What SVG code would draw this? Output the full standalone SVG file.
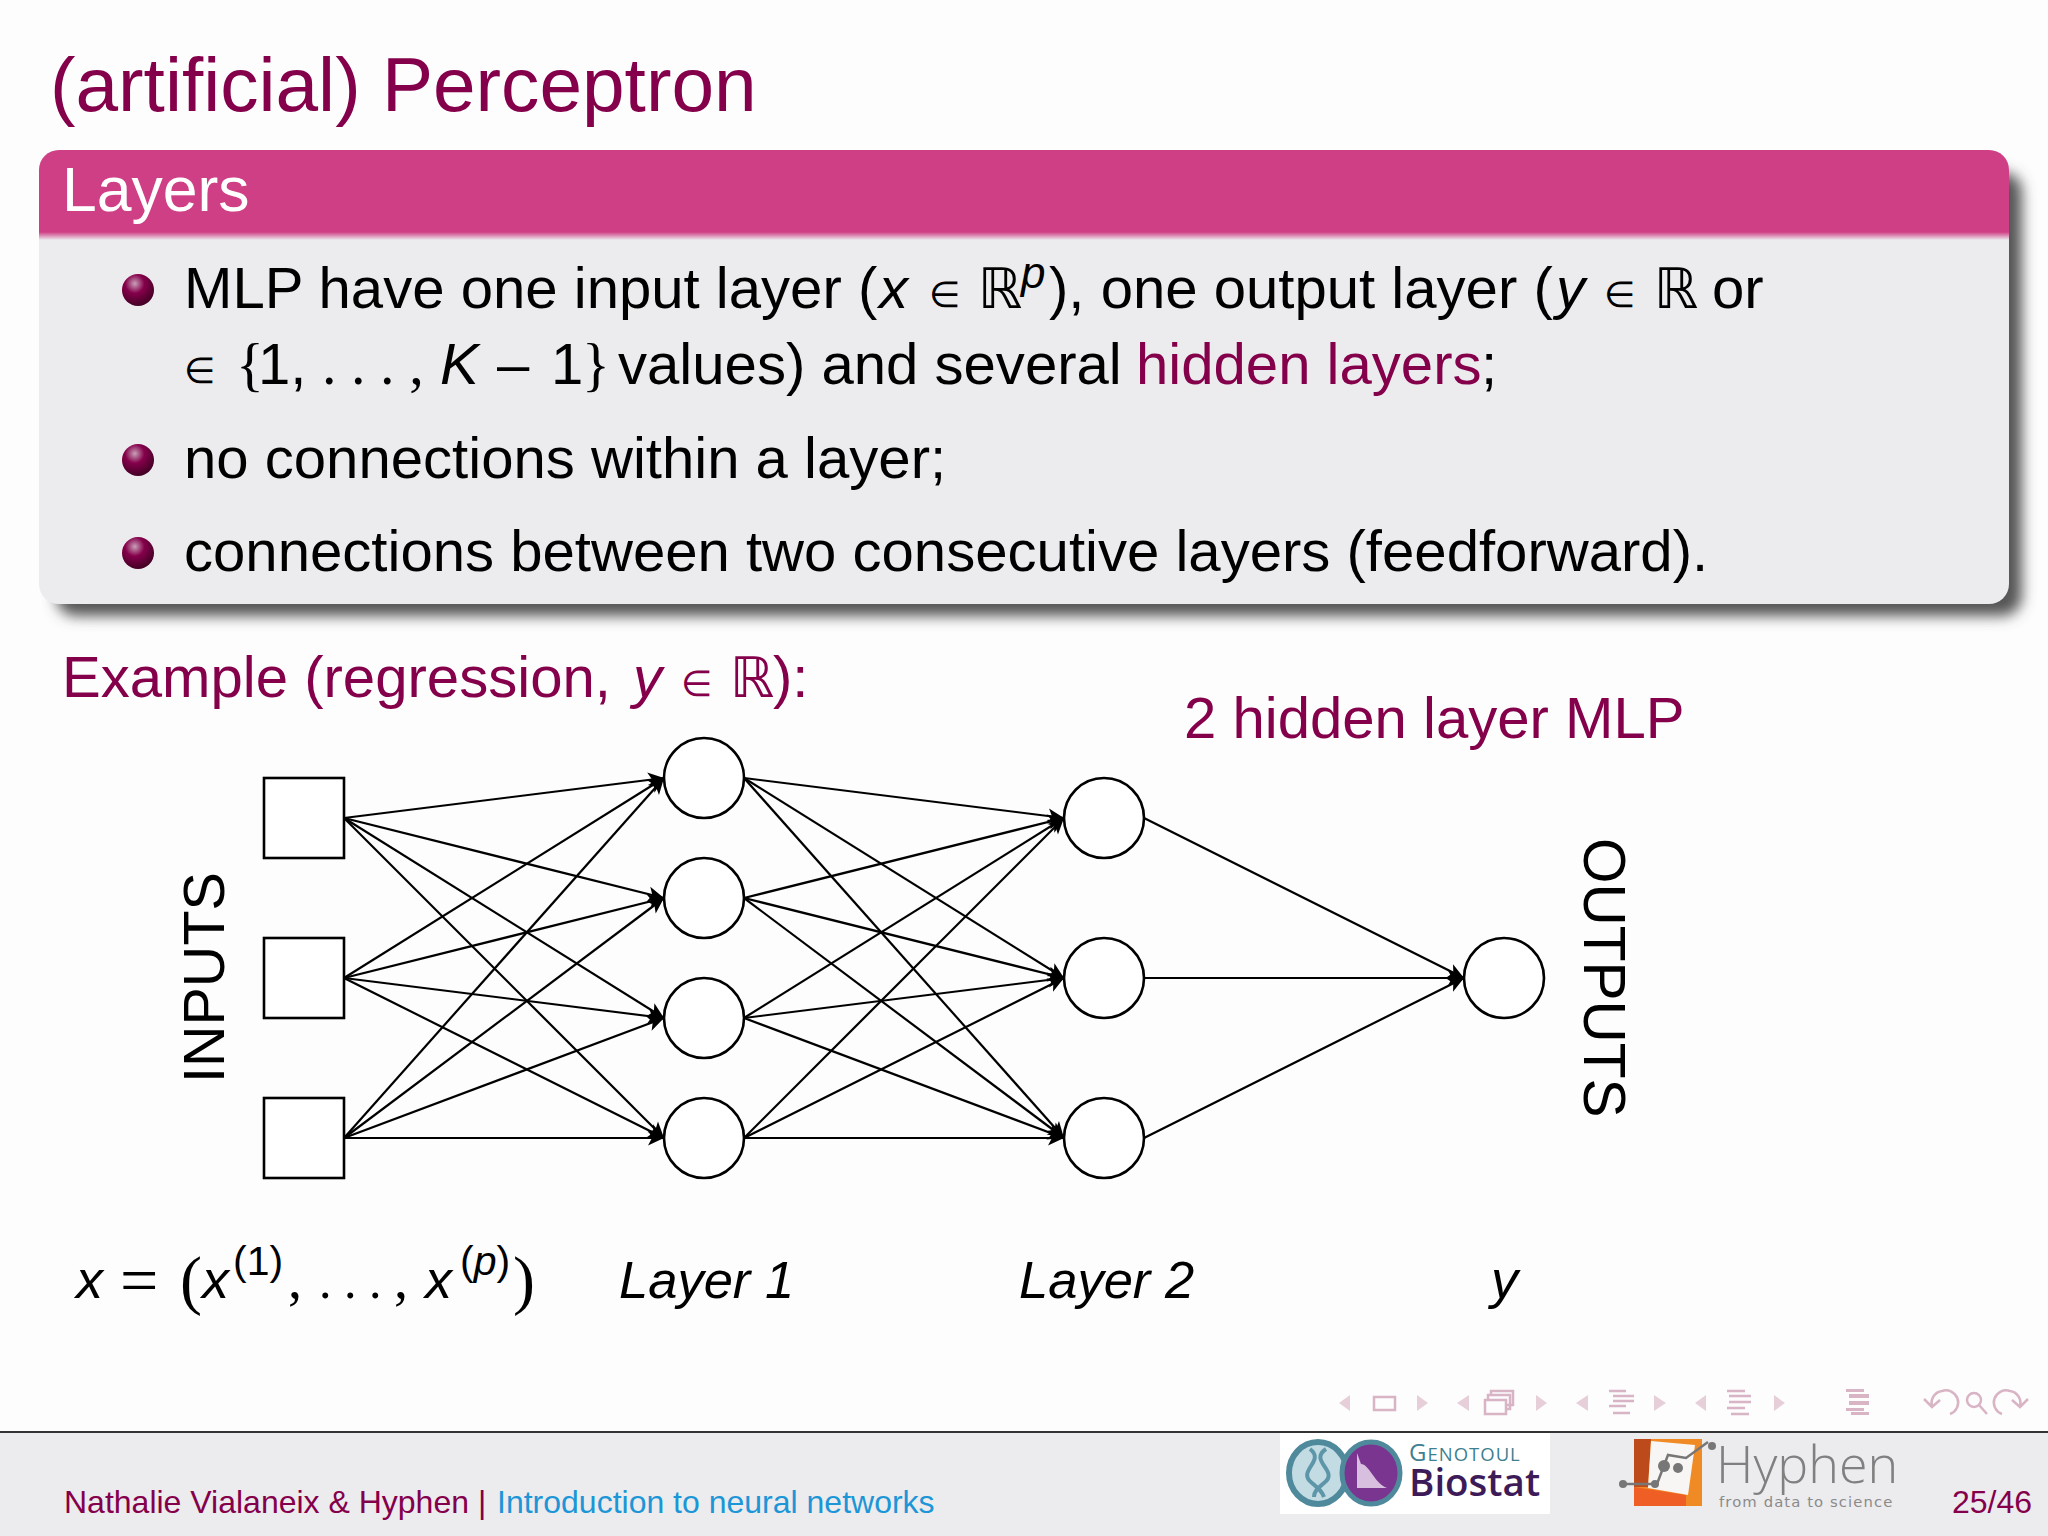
<svg xmlns="http://www.w3.org/2000/svg" width="2048" height="1536" viewBox="0 0 2048 1536">
<style>
text{font-family:"Liberation Sans",Arial,sans-serif;white-space:pre}
.b{font-size:58.100px;fill:#000}
.m{fill:#85004b}
.i{font-style:italic}
.s{font-family:"DejaVu Sans",sans-serif}
.f{font-family:"Liberation Serif",serif}
.n{fill:#fff;stroke:#000;stroke-width:2.6}
.e{stroke:#000;stroke-width:2.2;fill:none;marker-end:url(#a)}
.nv{fill:none;stroke:#d8b4c4;stroke-width:2.5}
.nt{fill:#e6cfd9}
.nb{fill:#d8b4c4}
</style>
<defs>
<marker id="a" markerUnits="userSpaceOnUse" markerWidth="24" markerHeight="24" refX="20" refY="12" orient="auto" viewBox="0 0 24 24"><path d="M4 4.500L20 12 4 19.500 8 12z" fill="#000"/></marker>
<radialGradient id="ball" cx="0.4" cy="0.3" r="0.75"><stop offset="0" stop-color="#c9a0b8"/><stop offset="0.4" stop-color="#85004b"/><stop offset="1" stop-color="#3a0020"/></radialGradient>
<linearGradient id="hf" x1="0" y1="0" x2="0" y2="1"><stop offset="0" stop-color="#cf3f85"/><stop offset="1" stop-color="#ecebee"/></linearGradient>
<filter id="sh" x="-5%" y="-5%" width="110%" height="110%"><feGaussianBlur stdDeviation="7"/></filter>
<clipPath id="blk"><rect x="39" y="150" width="1970" height="454" rx="20"/></clipPath>
</defs>
<rect width="2048" height="1536" fill="#fdfdfe"/>
<text x="50" y="111" font-size="76.600" class="m">(artificial) Perceptron</text>
<g id="block">
<rect x="56" y="172" width="1966" height="444" rx="20" fill="#555" filter="url(#sh)"/>
<rect x="39" y="150" width="1970" height="454" rx="20" fill="#ecebee"/>
<g clip-path="url(#blk)"><rect x="39" y="150" width="1970" height="82" fill="#cf3f85"/><rect x="39" y="232" width="1970" height="8" fill="url(#hf)"/></g>
<text x="62" y="211" font-size="62.500" fill="#fff">Layers</text>
<circle cx="138" cy="290" r="16" fill="url(#ball)"/>
<circle cx="138" cy="460" r="16" fill="url(#ball)"/>
<circle cx="138" cy="553" r="16" fill="url(#ball)"/>
<text class="b" x="184" y="308">MLP have one input layer (</text>
<text class="b i" x="879" y="308">x</text>
<text class="f" x="929" y="307" font-size="36">∈</text>
<text class="s" x="978" y="308" font-size="56">ℝ</text>
<text class="i" x="1021" y="288" font-size="44">p</text>
<text class="b" x="1049" y="308">), one output layer (</text>
<text class="b i" x="1556" y="308">y</text>
<text class="f" x="1604" y="307" font-size="36">∈</text>
<text class="s" x="1654" y="308" font-size="56">ℝ</text>
<text class="b" x="1712" y="308">or</text>
<text class="f" x="184" y="383" font-size="36">∈</text>
<text class="b f" x="236" y="384">{</text>
<text class="b" x="258" y="384">1,</text>
<text class="b f" x="322" y="384">. . . ,</text>
<text class="b i" x="440" y="384">K</text>
<text class="b" x="497" y="384">–</text>
<text class="b" x="551" y="384">1</text>
<text class="b f" x="582" y="384">}</text>
<text class="b" x="618" y="384">values) and several </text>
<text class="b m" x="1136" y="384">hidden layers</text>
<text class="b" x="1481" y="384">;</text>
<text class="b" x="184" y="478">no connections within a layer;</text>
<text class="b" x="184" y="571">connections between two consecutive layers (feedforward).</text>
</g>
<text class="b m" x="62" y="697" style="fill:#85004b">Example (regression,</text>
<text class="b i" x="633" y="697" style="fill:#85004b">y</text>
<text class="m f" x="681" y="696" font-size="36">∈</text>
<text class="m s" x="730" y="697" font-size="56">ℝ</text>
<text class="b" x="773" y="697" style="fill:#85004b">):</text>
<text class="b" x="1184" y="738" style="fill:#85004b">2 hidden layer MLP</text>
<g id="connectors">
<line class="e" x1="344" y1="818" x2="664" y2="778"/>
<line class="e" x1="344" y1="818" x2="664" y2="898"/>
<line class="e" x1="344" y1="818" x2="664" y2="1018"/>
<line class="e" x1="344" y1="818" x2="664" y2="1138"/>
<line class="e" x1="344" y1="978" x2="664" y2="778"/>
<line class="e" x1="344" y1="978" x2="664" y2="898"/>
<line class="e" x1="344" y1="978" x2="664" y2="1018"/>
<line class="e" x1="344" y1="978" x2="664" y2="1138"/>
<line class="e" x1="344" y1="1138" x2="664" y2="778"/>
<line class="e" x1="344" y1="1138" x2="664" y2="898"/>
<line class="e" x1="344" y1="1138" x2="664" y2="1018"/>
<line class="e" x1="344" y1="1138" x2="664" y2="1138"/>
<line class="e" x1="744" y1="778" x2="1064" y2="818"/>
<line class="e" x1="744" y1="778" x2="1064" y2="978"/>
<line class="e" x1="744" y1="778" x2="1064" y2="1138"/>
<line class="e" x1="744" y1="898" x2="1064" y2="818"/>
<line class="e" x1="744" y1="898" x2="1064" y2="978"/>
<line class="e" x1="744" y1="898" x2="1064" y2="1138"/>
<line class="e" x1="744" y1="1018" x2="1064" y2="818"/>
<line class="e" x1="744" y1="1018" x2="1064" y2="978"/>
<line class="e" x1="744" y1="1018" x2="1064" y2="1138"/>
<line class="e" x1="744" y1="1138" x2="1064" y2="818"/>
<line class="e" x1="744" y1="1138" x2="1064" y2="978"/>
<line class="e" x1="744" y1="1138" x2="1064" y2="1138"/>
<line class="e" x1="1144" y1="818" x2="1464" y2="978"/>
<line class="e" x1="1144" y1="978" x2="1464" y2="978"/>
<line class="e" x1="1144" y1="1138" x2="1464" y2="978"/>
</g>
<g id="input1"><rect class="n" x="264" y="778" width="80" height="80"/></g>
<g id="input2"><rect class="n" x="264" y="938" width="80" height="80"/></g>
<g id="input3"><rect class="n" x="264" y="1098" width="80" height="80"/></g>
<g id="h11"><circle class="n" cx="704" cy="778" r="40"/></g>
<g id="h12"><circle class="n" cx="704" cy="898" r="40"/></g>
<g id="h13"><circle class="n" cx="704" cy="1018" r="40"/></g>
<g id="h14"><circle class="n" cx="704" cy="1138" r="40"/></g>
<g id="h21"><circle class="n" cx="1104" cy="818" r="40"/></g>
<g id="h22"><circle class="n" cx="1104" cy="978" r="40"/></g>
<g id="h23"><circle class="n" cx="1104" cy="1138" r="40"/></g>
<g id="out"><circle class="n" cx="1504" cy="978" r="40"/></g>
<text transform="translate(224 1083) rotate(-90)" font-size="57.500">INPUTS</text>
<text transform="translate(1584 838) rotate(90)" font-size="58.500">OUTPUTS</text>
<g id="formula">
<text class="i" x="76" y="1298" font-size="54">x</text>
<text class="f" x="120" y="1303" font-size="68">=</text>
<text class="f" x="180" y="1302" font-size="66">(</text>
<text class="i" x="202" y="1298" font-size="54">x</text>
<text x="233" y="1275" font-size="41">(1)</text>
<text class="f" x="288" y="1298" font-size="56">,</text>
<text class="f" x="319" y="1298" font-size="50">. . .</text>
<text class="f" x="394" y="1298" font-size="56">,</text>
<text class="i" x="425" y="1298" font-size="54">x</text>
<text x="460" y="1275" font-size="41">(<tspan class="i">p</tspan>)</text>
<text class="f" x="513" y="1302" font-size="66">)</text>
</g>
<text class="i" x="619" y="1298" font-size="52.500">Layer 1</text>
<text class="i" x="1019" y="1298" font-size="52.500">Layer 2</text>
<text class="i" x="1491" y="1298" font-size="54">y</text>
<g id="nav">
<path class="nt" d="M1350 1395v16l-11-8zM1417 1395v16l11-8zM1469 1395v16l-12-8zM1536 1395v16l11-8zM1588 1395v16l-12-8zM1654 1395v16l12-8zM1706 1395v16l-11-8zM1774 1395v16l11-8z"/>
<rect class="nv" x="1374" y="1397" width="21" height="13"/>
<path class="nv" d="M1491 1396v-5h22v14h-6M1488 1400v-5h22v14h-4"/>
<rect class="nv" x="1485" y="1400" width="21" height="14"/>
<path class="nv" d="M1609 1391h17M1613 1396h21M1613 1401h21M1609 1406h17M1613 1413h17M1727 1391h18M1729 1396h22M1729 1402h22M1727 1408h18M1731 1414h18"/>
<path class="nb" d="M1846 1389h18v3h-18zM1849 1394h20v4h-20zM1849 1401h20v4h-20zM1846 1408h18v3h-18zM1851 1412h18v3h-18z"/>
<path class="nv" d="M1924 1399l8 8 8-7M1932 1406a12 12 0 0 1 10-15 12 12 0 0 1 8 23"/>
<circle class="nv" cx="1974" cy="1400" r="7"/><path class="nv" d="M1979 1405l8 9"/>
<path class="nv" d="M2028 1399l-8 8-8-7M2020 1406a12 12 0 0 0-10-15 12 12 0 0 0-8 23"/>
</g>
<g id="footer">
<rect x="0" y="1432" width="2048" height="104" fill="#ecebee"/>
<rect x="0" y="1431" width="2048" height="2" fill="#333"/>
<text x="64" y="1513" font-size="32" fill="#85004b">Nathalie Vialaneix &amp; Hyphen | </text>
<text x="497" y="1513" font-size="32" fill="#1c96d6">Introduction to neural networks</text>
<text x="1952" y="1513" font-size="32" fill="#85004b">25/46</text>
<rect x="1280" y="1433" width="270" height="81" fill="#fff"/>
<ellipse cx="1318" cy="1473" rx="29" ry="31" fill="#c3dbe3" stroke="#4f8a9c" stroke-width="6"/>
<path d="M1326 1449c-18 12 14 22-2 34-6 5-10 8-10 14M1310 1449c16 12-14 22 2 34 6 5 10 8 12 14" fill="none" stroke="#5d96a8" stroke-width="4"/>
<ellipse cx="1371" cy="1473" rx="29" ry="31" fill="#7a3590" stroke="#4f8a9c" stroke-width="5"/>
<path d="M1357 1453v35h30c-12-4-18-24-26-24z" fill="#d8bfe0"/>
<text x="1409" y="1461" font-size="24" fill="#3f7f8f" letter-spacing="1" style="font-family:'Open Sans',sans-serif">G<tspan font-size="18.500">ENOTOUL</tspan></text>
<text x="1409" y="1496" font-size="38.500" fill="#3d1b58" font-weight="600" style="font-family:'Open Sans',sans-serif">Biostat</text>
<path d="M1634 1439h68v67h-68z" fill="#f08a25"/>
<path d="M1634 1439h17l-3 48h-14z" fill="#bd4a1a"/>
<path d="M1634 1487l52 8 0 11h-52z" fill="#ef5f25"/>
<path d="M1651 1441l44 4-7 50-40-7z" fill="#f7f6f4"/>
<path d="M1621 1484h36l11-29 18 3 22-16" fill="none" stroke="#777" stroke-width="2.500"/>
<g fill="#777"><circle cx="1623" cy="1484" r="4"/><circle cx="1655" cy="1484" r="4"/><circle cx="1664" cy="1466" r="6"/><circle cx="1678" cy="1468" r="5"/><circle cx="1712" cy="1446" r="4"/></g>
<text x="1716" y="1483" font-size="52" fill="#808080" font-weight="300" style="font-family:'Open Sans',sans-serif">Hyphen</text>
<text x="1719" y="1507" font-size="14.800" fill="#8a8a8a" letter-spacing="1.100" style="font-family:'DejaVu Sans',sans-serif">from data to science</text>
</g>
</svg>
